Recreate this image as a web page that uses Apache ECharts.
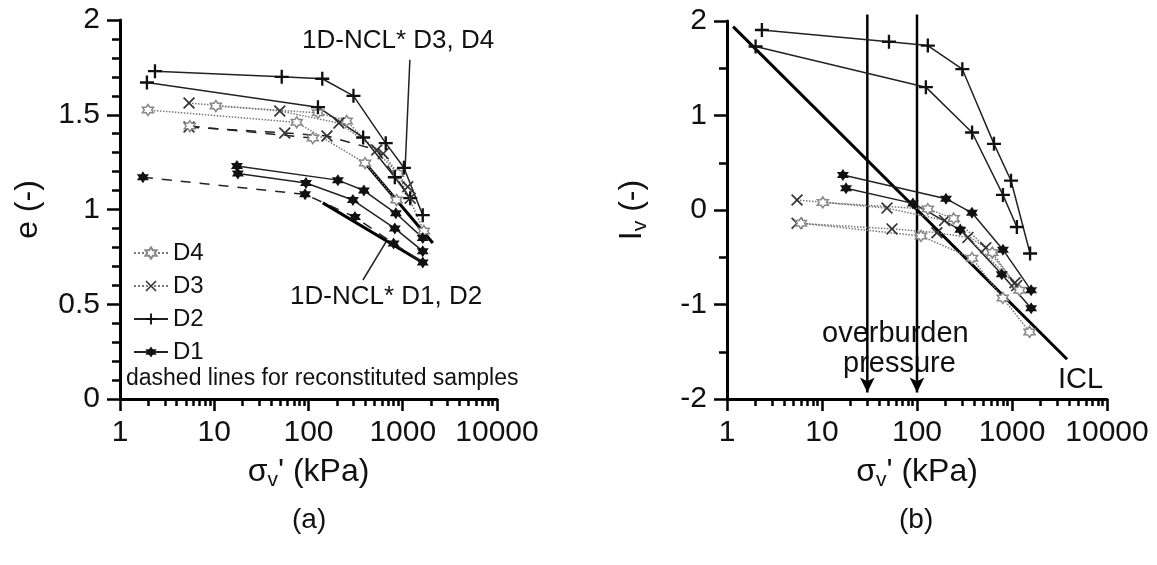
<!DOCTYPE html>
<html>
<head>
<meta charset="utf-8">
<script src="https://cdn.jsdelivr.net/npm/echarts@6/dist/echarts.min.js"></script>
<style>
  html, body { margin: 0; padding: 0; background: #fff; }
  #chart { width: 1157px; height: 565px; }
</style>
</head>
<body>
<div id="chart"></div>
<script>
  // ---- data (sigma_v' in kPa) ----
  // (a) void ratio e
  var aD2up   = [[2.35, 1.73], [52, 1.70], [140, 1.69], [300, 1.60], [660, 1.35], [1030, 1.22], [1630, 0.97]];
  var aD2low  = [[1.93, 1.67], [126, 1.54], [380, 1.38], [824, 1.17], [1200, 1.06]];
  var aD1up   = [[17.4, 1.23], [205, 1.155], [387, 1.10], [845, 0.98], [1630, 0.85]];
  var aD1low  = [[17.8, 1.19], [94, 1.14], [296, 1.05], [824, 0.90], [1630, 0.78]];
  var aD1rec  = [[1.75, 1.17], [92, 1.08], [311, 0.96], [800, 0.82], [1630, 0.72]];
  var aD3     = [[5.4, 1.562], [49.6, 1.52], [210, 1.456], [620, 1.295], [1130, 1.12]];
  var aD3rec  = [[5.4, 1.435], [56, 1.404], [157, 1.388], [530, 1.314], [1200, 1.06]];
  var aD4     = [[10.4, 1.546], [126, 1.51], [254, 1.467], [890, 1.19], [1675, 0.887]];
  var aD4b    = [[1.98, 1.525], [75, 1.46], [398, 1.245], [860, 1.05]];
  var aD4rec  = [[5.5, 1.44], [111, 1.377]];
  var aNcl34  = [[398, 1.245], [2085, 0.823]];
  var aNcl12  = [[142, 1.035], [1630, 0.72]];
  var aLead34 = [[1190, 1.79], [1055, 1.193]];
  var aLead12 = [[662, 0.828], [378, 0.628]];

  // (b) void index Iv
  var bD2up   = [[2.33, 1.905], [50.7, 1.78], [130, 1.74], [300, 1.49], [646, 0.70], [977, 0.31], [1550, -0.46]];
  var bD2low  = [[2.0, 1.73], [124, 1.30], [380, 0.82], [803, 0.16], [1125, -0.18]];
  var bD1up   = [[16.6, 0.37], [202, 0.12], [379, -0.03], [803, -0.42], [1590, -0.85]];
  var bD1low  = [[17.9, 0.23], [90.6, 0.07], [285, -0.21], [780, -0.68], [1590, -1.04]];
  var bD3a    = [[5.46, 0.106], [48.3, 0.02], [195, -0.11], [530, -0.40], [1075, -0.77]];
  var bD3b    = [[5.46, -0.14], [54.5, -0.20], [162, -0.24], [344, -0.29], [1120, -0.80]];
  var bD4a    = [[10.2, 0.08], [130, 0.01], [243, -0.09], [620, -0.45], [1200, -0.85]];
  var bD4b    = [[6.0, -0.14], [110, -0.275], [380, -0.51], [800, -0.93], [1530, -1.29]];
  var bICL    = [[1.16, 1.94], [3800, -1.58]];
  var overburden = [30, 100];

  var majorTicks = [1, 10, 100, 1000, 10000];
  var minorTicks = [];
  [1, 10, 100, 1000].forEach(function (d) {
    for (var k = 2; k <= 9; k++) minorTicks.push(d * k);
  });

  var FONT = '"Liberation Sans", Arial, sans-serif';
  var PLUS = 'path://M-1,-6L1,-6L1,-1L6,-1L6,1L1,1L1,6L-1,6L-1,1L-6,1L-6,-1L-1,-1Z';
  var CROSS = 'path://M-6,-4.8L-4.8,-6L0,-1.2L4.8,-6L6,-4.8L1.2,0L6,4.8L4.8,6L0,1.2L-4.8,6L-6,4.8L-1.2,0Z';
  var STAR = 'path://M0,-6L1.73,-3L5.2,-3L3.46,0L5.2,3L1.73,3L0,6L-1.73,3L-5.2,3L-3.46,0L-5.2,-3L-1.73,-3Z';

  var sty = {
    D1: { symbol: STAR, symbolSize: 12, itemStyle: { color: '#111' } },
    D2: { symbol: PLUS, symbolSize: 14, itemStyle: { color: '#111' } },
    D3: { symbol: CROSS, symbolSize: 12, itemStyle: { color: '#333' } },
    D4: { symbol: STAR, symbolSize: 11, itemStyle: { color: '#fff', borderColor: '#888', borderWidth: 1.5 } }
  };

  function mk(name, data, panel, line) {
    var s = {
      name: name, type: 'line', data: data,
      xAxisIndex: panel === 'a' ? 0 : 2, yAxisIndex: panel === 'a' ? 0 : 1,
      symbol: sty[name].symbol, symbolSize: sty[name].symbolSize,
      itemStyle: sty[name].itemStyle, showSymbol: true,
      lineStyle: line, z: 3
    };
    return s;
  }
  function plain(data, panel, width, extra) {
    var s = {
      type: 'line', data: data,
      xAxisIndex: panel === 'a' ? 0 : 2, yAxisIndex: panel === 'a' ? 0 : 1,
      symbol: 'none', lineStyle: { color: '#000', width: width }, z: 2
    };
    for (var k in extra) s[k] = extra[k];
    return s;
  }

  var solid = { color: '#222', width: 1.5, type: 'solid' };
  var dotted = { color: '#777', width: 1.5, type: 'dotted' };
  var dashed = { color: '#222', width: 1.5, type: [10, 9] };

  var series = [
    mk('D4', aD4, 'a', dotted),
    mk('D3', aD3, 'a', dotted),
    mk('D2', aD2up, 'a', solid),
    mk('D1', aD1up, 'a', solid),
    mk('D2', aD2low, 'a', solid),
    mk('D1', aD1low, 'a', solid),
    mk('D1', aD1rec, 'a', dashed),
    mk('D3', aD3rec, 'a', dashed),
    mk('D4', aD4b, 'a', dotted),
    mk('D4', aD4rec, 'a', dashed),
    plain(aNcl34, 'a', 3),
    plain(aNcl12, 'a', 3),
    plain(aLead34, 'a', 1.5, { lineStyle: { color: '#222', width: 1.5 } }),
    plain(aLead12, 'a', 1.5, { lineStyle: { color: '#222', width: 1.5 } }),

    mk('D2', bD2up, 'b', solid),
    mk('D2', bD2low, 'b', solid),
    mk('D1', bD1up, 'b', solid),
    mk('D1', bD1low, 'b', solid),
    mk('D3', bD3a, 'b', dotted),
    mk('D3', bD3b, 'b', dotted),
    mk('D4', bD4a, 'b', dotted),
    mk('D4', bD4b, 'b', dotted),
    plain(bICL, 'b', 3)
  ];
  overburden.forEach(function (p) {
    series.push(plain([[p, 2.07], { value: [p, -1.93], symbol: 'arrow', symbolSize: [11, 15], symbolRotate: 180 }], 'b', 2.5,
      { showSymbol: true, clip: false, itemStyle: { color: '#000' } }));
  });

  function xAx(grid, major) {
    return {
      type: 'log', logBase: 10, gridIndex: grid, min: 1, max: 10000, position: 'bottom',
      axisLine: { show: major, onZero: false, lineStyle: { color: '#000', width: 3 } },
      axisTick: { show: true, customValues: major ? majorTicks : minorTicks, length: major ? 12 : 7,
        lineStyle: { color: '#000', width: 2.5 } },
      axisLabel: { show: major, customValues: majorTicks, fontSize: 30, color: '#111', margin: 19, fontFamily: FONT,
        formatter: function (v) { return String(v); } },
      splitLine: { show: false },
      name: major ? 'σ{s|v}\' (kPa)' : '', nameLocation: 'middle', nameGap: 54,
      nameTextStyle: { fontSize: 32, color: '#111', fontFamily: FONT,
        rich: { s: { fontSize: 21, verticalAlign: 'bottom', padding: [17, 0, 0, 0], fontFamily: FONT } } }
    };
  }
  function yAx(grid, min, max, interval, minorSplit, name) {
    return {
      type: 'value', gridIndex: grid, min: min, max: max, interval: interval,
      axisLine: { show: true, onZero: false, lineStyle: { color: '#000', width: 3 } },
      axisTick: { show: true, length: 13, lineStyle: { color: '#000', width: 2.5 } },
      minorTick: { show: true, splitNumber: minorSplit, length: 8, lineStyle: { color: '#000', width: 2.5 } },
      axisLabel: { fontSize: 30, color: '#111', margin: 20, fontFamily: FONT },
      splitLine: { show: false },
      name: name, nameLocation: 'middle', nameGap: 76, nameRotate: 90,
      nameTextStyle: { fontSize: 32, color: '#111', fontFamily: FONT,
        rich: { s: { fontSize: 21, padding: [17, 0, 0, 0], fontFamily: FONT } } }
    };
  }

  var option = {
    animation: false,
    backgroundColor: '#fff',
    textStyle: { fontFamily: FONT },
    grid: [
      { left: 120, top: 20, width: 377, height: 379 },
      { left: 727, top: 21, width: 380, height: 378 }
    ],
    xAxis: [xAx(0, true), xAx(0, false), xAx(1, true), xAx(1, false)],
    yAxis: [yAx(0, 0, 2, 0.5, 5, 'e (-)'), yAx(1, -2, 2, 1, 2, 'I{s|v} (-)')],
    legend: {
      data: ['D4', 'D3', 'D2', 'D1'], orient: 'vertical', left: 128, top: 236,
      itemWidth: 34, itemHeight: 14, itemGap: 9,
      textStyle: { fontSize: 24, color: '#111', fontFamily: FONT }
    },
    graphic: [
      { type: 'text', left: 302, top: 28, style: { text: '1D-NCL* D3, D4', font: '26px ' + FONT, fill: '#111' } },
      { type: 'text', left: 290, top: 284, style: { text: '1D-NCL* D1, D2', font: '26px ' + FONT, fill: '#111' } },
      { type: 'text', left: 126, top: 367, style: { text: 'dashed lines for reconstituted samples', font: '23px ' + FONT, fill: '#111' } },
      { type: 'text', left: 822, top: 319, style: { text: 'overburden', font: '29px ' + FONT, fill: '#111' } },
      { type: 'text', left: 843, top: 349, style: { text: 'pressure', font: '29px ' + FONT, fill: '#111' } },
      { type: 'text', left: 1058, top: 365, style: { text: 'ICL', font: '29px ' + FONT, fill: '#111' } },
      { type: 'text', left: 292, top: 506, style: { text: '(a)', font: '28px ' + FONT, fill: '#111' } },
      { type: 'text', left: 899, top: 506, style: { text: '(b)', font: '28px ' + FONT, fill: '#111' } }
    ],
    series: series
  };

  var chart = echarts.init(document.getElementById('chart'));
  chart.setOption(option);
</script>
</body>
</html>
